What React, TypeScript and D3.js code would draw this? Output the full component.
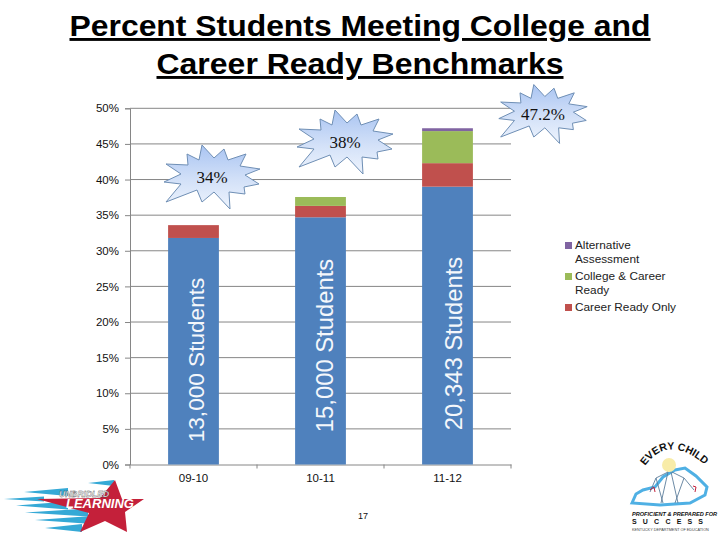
import React, { useEffect, useRef } from "react";
import * as d3 from "d3";

const years = ["09-10", "10-11", "11-12"];
const seriesNames = ["Base", "Career Ready Only", "College & Career Ready", "Alternative Assessment"];
const baseValues = [31.8, 34.7, 39.0];
const careerOnly = [1.8, 1.6, 3.3];
const collegeCareer = [0, 1.25, 4.5];
const alternative = [0, 0, 0.4];
const seriesColors = ["#4f81bd", "#c0504d", "#9bbb59", "#8064a2"];
const yTicks = [0, 5, 10, 15, 20, 25, 30, 35, 40, 45, 50];
const barLabels = ["13,000 Students", "15,000 Students", "20,343 Students"];
const burstLabels = ["34%", "38%", "47.2%"];
const titleLines = ["Percent Students Meeting College and", "Career Ready Benchmarks"];
const legendRows = [
	["Alternative", "Assessment"],
	["College & Career", "Ready"],
	["Career Ready Only"],
];

// outline of the callout, px from its centre
const burstShape: [number, number][] = [
	[-46, -13], [-24, -12], [-25, -23], [-13, -17], [-10, -32], [2, -19], [12, -28], [16, -17],
	[34, -23], [28, -11], [48, -8], [33, -2], [47, 7], [32, 10], [33, 17], [17, 15],
	[18, 32], [2, 15], [-10, 25], [-15, 13], [-46, 25], [-31, 7], [-48, 5], [-31, -3],
];

function drawUnbridled(svg: d3.Selection<SVGSVGElement, unknown, null, undefined>, font: string) {
	const g = svg.append("g");
	// x start, x end, y, thickness
	const streaks: [number, number, number, number][] = [
		[88, 114, 483, 3], [24, 68, 492, 4], [4, 44, 499, 2.5], [16, 68, 505.5, 4], [25, 88, 512.5, 4], [35, 92, 520, 4], [45, 82, 528, 4],
	];
	g.selectAll("path")
		.data(streaks)
		.join("path")
		.attr("d", ([a, b, c, h]) => `M${a},${c}L${b},${c - h}L${b},${c + h}Z`)
		.attr("fill", "#35a9d6");
	g.append("path")
		.attr("d", "M115,480L122,499L144,499L125,512L127,532L105,521L80,532L89,513L37,499L100,498Z")
		.attr("fill", "#c4203a");
	g.append("text")
		.attr("x", 59)
		.attr("y", 496.5)
		.attr("font-family", font)
		.attr("font-size", 8.5)
		.attr("font-style", "italic")
		.attr("font-weight", "bold")
		.attr("fill", "#fff")
		.attr("stroke", "#333")
		.attr("stroke-width", 0.3)
		.text("UNBRIDLED");
	g.append("text")
		.attr("x", 66)
		.attr("y", 508)
		.attr("font-family", font)
		.attr("font-size", 13)
		.attr("font-style", "italic")
		.attr("font-weight", "bold")
		.attr("fill", "#fff")
		.text("LEARNING");
}

function drawEveryChild(svg: d3.Selection<SVGSVGElement, unknown, null, undefined>, font: string) {
	const g = svg.append("g").attr("font-family", font);
	g.append("path")
		.attr("d", "M632,503L636,494L643,490L655,487L663,477L675,470L685,468L696,476L707,487L705,495L690,503L660,505Z")
		.attr("fill", "#fff")
		.attr("stroke", "#4fb0e4")
		.attr("stroke-width", 3);
	g.append("circle").attr("cx", 669).attr("cy", 465).attr("r", 7).attr("fill", "#f8eca8");
	g.append("path")
		.attr("d", "M668,472L661,503M671,472L678,503M668,472L656,478L650,492M672,472L684,478L694,490M656,478L663,503M684,478L675,503")
		.attr("stroke", "#5b7d9b")
		.attr("stroke-width", 0.9)
		.attr("fill", "none");
	g.append("path").attr("d", "M650,490l4,-3l1,5M693,486l3,1l-1,5").attr("stroke", "#c4203a").attr("fill", "none");
	g.append("path").attr("id", "ecArc").attr("d", "M645,466Q668,434 704,464").attr("fill", "none");
	g.append("text")
		.attr("font-size", 10.5)
		.attr("font-weight", "bold")
		.attr("fill", "#111")
		.append("textPath")
		.attr("href", "#ecArc")
		.text("EVERY CHILD");
	g.append("text").attr("x", 632).attr("y", 516).attr("font-size", 5.6).attr("font-weight", "bold").attr("font-style", "italic").attr("fill", "#111").text("PROFICIENT & PREPARED FOR");
	g.append("text").attr("x", 632).attr("y", 524).attr("font-size", 7).attr("font-weight", "bold").attr("letter-spacing", 6.2).attr("fill", "#111").text("SUCCESS");
	g.append("text").attr("x", 632).attr("y", 531).attr("font-size", 3.8).attr("fill", "#444").text("KENTUCKY DEPARTMENT OF EDUCATION");
}

function draw(svgEl: SVGSVGElement | null) {
	if (!svgEl) return;
	const svg = d3.select(svgEl);
	svg.selectAll("*").remove();

	const x = d3.scaleBand<string>().domain(years).range([130, 511]).paddingInner(0.6).paddingOuter(0.3);
	const y = d3.scaleLinear().domain([0, 50]).range([464.5, 108.3]);
	const font = "Liberation Sans, Arial, sans-serif";
	const gap = x.step() * 0.3;

	// title, stretched a bit like the slide it came from
	const titleWidths = [581, 407];
	svg.append("g")
		.attr("font-family", font)
		.attr("font-size", 29)
		.attr("font-weight", "bold")
		.attr("text-anchor", "middle")
		.attr("fill", "#000")
		.selectAll("text")
		.data(titleLines)
		.join("text")
		.attr("x", 360)
		.attr("y", (_, i) => 36 + i * 38)
		.attr("text-decoration", "underline")
		.attr("textLength", (_, i) => titleWidths[i])
		.attr("lengthAdjust", "spacingAndGlyphs")
		.text((d) => d);

	// grid
	svg.append("g")
		.selectAll("line")
		.data(yTicks.slice(1))
		.join("line")
		.attr("x1", 130)
		.attr("x2", 511)
		.attr("y1", (d) => y(d))
		.attr("y2", (d) => y(d))
		.attr("stroke", "#868686");

	// axes
	const yAxis = svg
		.append("g")
		.attr("transform", "translate(130,0)")
		.call(d3.axisLeft(y).tickValues(yTicks).tickFormat((d) => `${d}%`).tickSize(5).tickPadding(6));
	const xAxis = svg
		.append("g")
		.attr("transform", "translate(0,464.5)")
		.call(d3.axisBottom(x).tickSize(0).tickPadding(9));
	// category boundary ticks
	xAxis
		.selectAll("line.boundary")
		.data(years)
		.join("line")
		.attr("class", "boundary")
		.attr("x1", (d) => (x(d) as number) + x.bandwidth() + gap)
		.attr("x2", (d) => (x(d) as number) + x.bandwidth() + gap)
		.attr("y2", 4);
	xAxis.append("line").attr("x1", 130).attr("x2", 130).attr("y2", 4);
	[yAxis, xAxis].forEach((a) => {
		a.attr("font-family", font).attr("font-size", 11.5);
		a.selectAll("path,line").attr("stroke", "#868686");
		a.selectAll("text").attr("fill", "#111");
	});

	// stacked bars
	const rows = years.map((year, i) => ({
		year,
		[seriesNames[0]]: baseValues[i],
		[seriesNames[1]]: careerOnly[i],
		[seriesNames[2]]: collegeCareer[i],
		[seriesNames[3]]: alternative[i],
	}));
	const stacked = d3.stack<any>().keys(seriesNames)(rows);
	svg.append("g")
		.selectAll("g")
		.data(stacked)
		.join("g")
		.attr("fill", (_, i) => seriesColors[i])
		.selectAll("rect")
		.data((s) => s)
		.join("rect")
		.attr("x", (d) => x(d.data.year) as number)
		.attr("width", x.bandwidth())
		.attr("y", (d) => y(d[1]))
		.attr("height", (d) => y(d[0]) - y(d[1]));

	// rotated labels on the bars
	const labelSize = [22.6, 23.8, 23.8];
	const labelMid = [360, 345.5, 343.5];
	svg.append("g")
		.selectAll("text")
		.data(barLabels)
		.join("text")
		.attr("transform", (_, i) => `translate(${(x(years[i]) as number) + 36 + i * 1.8},${labelMid[i]}) rotate(-90)`)
		.attr("text-anchor", "middle")
		.attr("font-family", font)
		.attr("font-size", (_, i) => labelSize[i])
		.attr("fill", "#f4f7fb")
		.text((d) => d);

	// callouts
	const burstPos = [
		{ cx: 212, cy: 177, k: 1 },
		{ cx: 345, cy: 142, k: 1 },
		{ cx: 543, cy: 114, k: 0.92 },
	];
	const grad = svg.append("defs").append("linearGradient").attr("id", "burstFill").attr("x1", 0).attr("y1", 0).attr("x2", 0).attr("y2", 1);
	grad.append("stop").attr("offset", "0%").attr("stop-color", "#a9c4f2");
	grad.append("stop").attr("offset", "55%").attr("stop-color", "#d3e1f8");
	grad.append("stop").attr("offset", "100%").attr("stop-color", "#eef4fd");
	const line = d3.line().curve(d3.curveLinearClosed);
	const burst = svg
		.append("g")
		.selectAll("g")
		.data(burstLabels)
		.join("g")
		.attr("transform", (_, i) => `translate(${burstPos[i].cx},${burstPos[i].cy})`);
	burst
		.append("path")
		.attr("d", (_, i) => line(burstShape.map(([a, b]) => [a * burstPos[i].k, b * burstPos[i].k]))!)
		.attr("fill", "url(#burstFill)")
		.attr("stroke", "#6f8fb5")
		.attr("stroke-width", 1);
	burst
		.append("text")
		.attr("text-anchor", "middle")
		.attr("y", 6)
		.attr("font-family", "Liberation Serif, serif")
		.attr("font-size", 17)
		.attr("fill", "#111")
		.text((d) => d);

	// legend
	const legendColors = [seriesColors[3], seriesColors[2], seriesColors[1]];
	const legend = svg.append("g").attr("font-family", font).attr("font-size", 11.8).attr("fill", "#222");
	let rowY = 245;
	legendRows.forEach((lines, i) => {
		legend.append("rect").attr("x", 565).attr("y", rowY - 3).attr("width", 7).attr("height", 7).attr("fill", legendColors[i]);
		lines.forEach((t, j) => {
			legend.append("text").attr("x", 575).attr("y", rowY + 4 + j * 14).text(t);
		});
		rowY += lines.length * 14 + 3;
	});

	// page number
	svg.append("text")
		.attr("x", 363)
		.attr("y", 519)
		.attr("text-anchor", "middle")
		.attr("font-family", font)
		.attr("font-size", 9)
		.attr("fill", "#111")
		.text("17");

	drawUnbridled(svg as any, font);
	drawEveryChild(svg as any, font);
}

export default function App() {
	const ref = useRef<SVGSVGElement>(null);
	useEffect(() => {
		draw(ref.current);
	}, []);
	return <svg ref={ref} width={720} height={540} style={{ position: "absolute", left: 0, top: 0, background: "#fff" }} />;
}
